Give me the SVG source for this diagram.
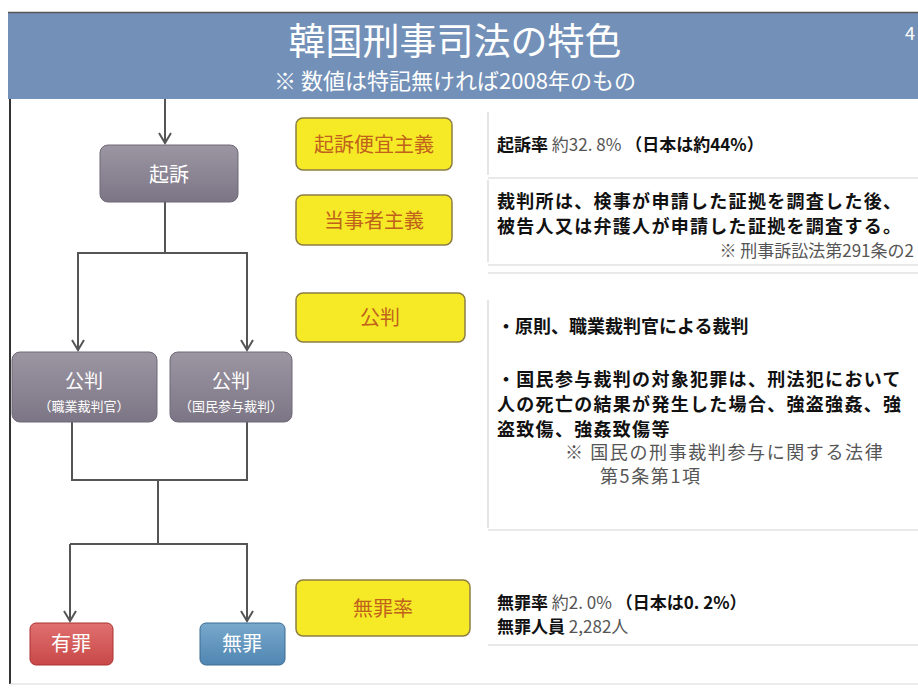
<svg xmlns="http://www.w3.org/2000/svg" width="918" height="689" viewBox="0 0 918 689">
<defs>
<linearGradient id="gGray" x1="0" y1="0" x2="0" y2="1"><stop offset="0" stop-color="#9c96a3"/><stop offset="1" stop-color="#7c7585"/></linearGradient>
<linearGradient id="gRed" x1="0" y1="0" x2="0" y2="1"><stop offset="0" stop-color="#e07070"/><stop offset="1" stop-color="#c84848"/></linearGradient>
<linearGradient id="gBlue" x1="0" y1="0" x2="0" y2="1"><stop offset="0" stop-color="#79a8cc"/><stop offset="1" stop-color="#4f86b2"/></linearGradient>
<marker id="arr" markerWidth="14" markerHeight="14" refX="12" refY="7" orient="auto" markerUnits="userSpaceOnUse" viewBox="0 0 14 14">
<path d="M2,1 L12,7 L2,13" fill="none" stroke="#555" stroke-width="2"/>
</marker>
<style>
text{font-family:"Noto Sans CJK JP","Noto Sans",sans-serif;}
.gn{fill:url(#gGray);stroke:#6e6876;stroke-width:1;}
.yl{fill:#f6ea26;stroke:#8c7d45;stroke-width:1.5;}
.yt{fill:#c0621c;font-size:20px;text-anchor:middle;}
.wt{fill:#fff;text-anchor:middle;}
.bk{fill:#111;font-weight:bold;}
.gy{fill:#555;font-weight:normal;}
.pl{fill:none;stroke:#d4d4d4;stroke-width:1.2;}
.cn{fill:none;stroke:#555;stroke-width:2;}
.ln{font-size:18px;letter-spacing:1.3px;}
.nt{font-size:18px;letter-spacing:1.6px;}
</style>
</defs>
<rect width="918" height="689" fill="#fff"/>
<g id="header">
<rect x="8" y="12" width="910" height="87" fill="#7391b8"/>
<line x1="8" y1="12.5" x2="918" y2="12.5" stroke="#555" stroke-width="1.5"/>
<text x="455" y="55" class="wt" font-size="37">韓国刑事司法の特色</text>
<text x="455" y="89" class="wt" font-size="22">※ 数値は特記無ければ2008年のもの</text>
<text x="905" y="40" fill="#fff" font-size="18" font-family="Liberation Sans, sans-serif">4</text>
</g>
<g id="frame">
<line x1="10" y1="99" x2="10" y2="684" stroke="#333" stroke-width="2"/>
<line x1="10" y1="684" x2="918" y2="684" stroke="#d8d8d8" stroke-width="1.2"/>
</g>
<g id="connectors">
<path class="cn" d="M165,99 V143" marker-end="url(#arr)"/>
<path class="cn" d="M165,202 V253 H78 V350" marker-end="url(#arr)"/>
<path class="cn" d="M165,253 H247 V350" marker-end="url(#arr)"/>
<path class="cn" d="M72,422 V480 H247 V422"/>
<path class="cn" d="M158,480 V544"/>
<path class="cn" d="M70,544 V621" marker-end="url(#arr)"/>
<path class="cn" d="M70,544 H247 V621" marker-end="url(#arr)"/>
</g>
<g id="kiso">
<rect x="100" y="145" width="138" height="57" rx="8" class="gn"/>
<text x="169" y="182" class="wt" font-size="20">起訴</text>
</g>
<g id="kohan-shokugyo">
<rect x="12" y="352" width="145" height="70" rx="8" class="gn"/>
<text x="84" y="388" class="wt" font-size="19">公判</text>
<text x="84" y="411" class="wt" font-size="13">（職業裁判官）</text>
</g>
<g id="kohan-kokumin">
<rect x="170" y="352" width="122" height="70" rx="8" class="gn"/>
<text x="231" y="388" class="wt" font-size="19">公判</text>
<text x="231" y="411" class="wt" font-size="13">（国民参与裁判）</text>
</g>
<g id="yuzai">
<rect x="30" y="623" width="83" height="42" rx="6" fill="url(#gRed)" stroke="#a33" stroke-width="1"/>
<text x="71" y="651" class="wt" font-size="20">有罪</text>
</g>
<g id="muzai">
<rect x="200" y="623" width="85" height="42" rx="6" fill="url(#gBlue)" stroke="#3d6c92" stroke-width="1"/>
<text x="242" y="651" class="wt" font-size="20">無罪</text>
</g>
<g id="label-kiso-bengi">
<rect x="296" y="118" width="156" height="52" rx="7" class="yl"/>
<text x="374" y="152" class="yt">起訴便宜主義</text>
</g>
<g id="label-tojisha">
<rect x="296" y="195" width="156" height="50" rx="7" class="yl"/>
<text x="374" y="228" class="yt">当事者主義</text>
</g>
<g id="label-kohan">
<rect x="296" y="293" width="169" height="49" rx="7" class="yl"/>
<text x="380" y="325" class="yt">公判</text>
</g>
<g id="label-muzairitsu">
<rect x="296" y="580" width="174" height="56" rx="7" class="yl"/>
<text x="383" y="616" class="yt" font-size="19">無罪率</text>
</g>
<g id="panel-1">
<line x1="488" y1="112" x2="488" y2="175" class="pl"/>
<line x1="488" y1="178" x2="918" y2="178" class="pl"/>
<text x="497" y="151" class="bk" font-size="17">起訴率 <tspan class="gy">約32. 8%</tspan> （日本は約44%）</text>
</g>
<g id="panel-2">
<line x1="488" y1="180" x2="488" y2="262" class="pl"/>
<line x1="488" y1="265" x2="918" y2="265" class="pl"/>
<text x="497" y="208" class="bk ln">裁判所は、検事が申請した証拠を調査した後、</text>
<text x="497" y="233" class="bk ln">被告人又は弁護人が申請した証拠を調査する。</text>
<text x="914" y="257" class="gy" font-size="17" text-anchor="end">※ 刑事訴訟法第291条の2</text>
</g>
<g id="panel-3">
<line x1="488" y1="273" x2="918" y2="273" class="pl"/>
<line x1="488" y1="300" x2="488" y2="528" class="pl"/>
<line x1="488" y1="530" x2="918" y2="530" class="pl"/>
<text x="497" y="333" class="bk" font-size="18">・原則、職業裁判官による裁判</text>
<text x="497" y="386" class="bk ln">・国民参与裁判の対象犯罪は、刑法犯において</text>
<text x="497" y="411" class="bk ln">人の死亡の結果が発生した場合、強盗強姦、強</text>
<text x="497" y="436" class="bk ln">盗致傷、強姦致傷等</text>
<text x="565" y="459" class="gy nt">※  国民の刑事裁判参与に関する法律</text>
<text x="600" y="483" class="gy nt">第5条第1項</text>
</g>
<g id="panel-4">
<line x1="488" y1="645" x2="918" y2="645" class="pl"/>
<text x="497" y="609" class="bk" font-size="17">無罪率 <tspan class="gy">約2. 0%</tspan> （日本は0. 2%）</text>
<text x="497" y="633" class="bk" font-size="17">無罪人員 <tspan class="gy">2,282人</tspan></text>
</g>
</svg>
